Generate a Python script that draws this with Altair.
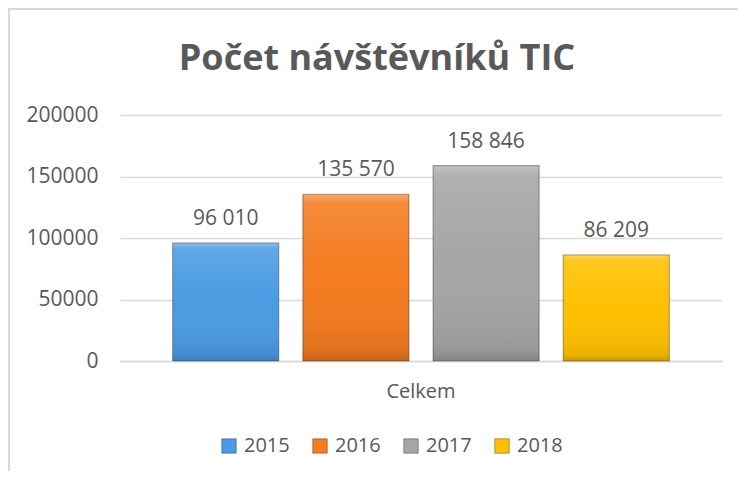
import altair as alt
import pandas as pd

years = ["2015", "2016", "2017", "2018"]
values = [96010, 135570, 158846, 86209]
category = "Celkem"
colors = ["#4A9BE2", "#F47B20", "#A5A5A5", "#FFC000"]
y_ticks = [0, 50000, 100000, 150000, 200000]
title_text = "Počet návštěvníků TIC"

labels = [f"{v:,}".replace(",", " ") for v in values]
df = pd.DataFrame({"cat": [category] * len(years), "year": years, "value": values, "label": labels})

FONT = "Open Sans"
TXT = "#595959"
GRID = "#D9D9D9"

x = alt.X(
    "cat:N", title=None,
    scale=alt.Scale(paddingInner=0, paddingOuter=0.106),
    axis=alt.Axis(labelAngle=0, labelFontSize=20, labelColor=TXT, labelFont=FONT,
                  ticks=False, domain=True, domainColor=GRID, domainWidth=1.5, labelPadding=20),
)
xo = alt.XOffset("year:N", scale=alt.Scale(paddingInner=0.185, paddingOuter=0))
y = alt.Y(
    "value:Q", title=None,
    scale=alt.Scale(domain=[0, 200000]),
    axis=alt.Axis(values=y_ticks, format="d", labelFontSize=21, labelColor=TXT, labelFont=FONT,
                  ticks=False, domain=False, gridColor=GRID, gridWidth=1.5, labelPadding=22),
)

base = alt.Chart(df)

bars = base.mark_bar().encode(
    x=x, xOffset=xo, y=y,
    color=alt.Color(
        "year:N", scale=alt.Scale(domain=years, range=colors),
        legend=alt.Legend(title=None, orient="none", direction="horizontal", legendX=99, legendY=321,
                          symbolType="square", symbolSize=210, symbolStrokeColor="#00000055",
                          symbolStrokeWidth=1, labelFontSize=20, labelFont=FONT, labelColor=TXT,
                          labelOffset=5, columnPadding=20),
    ),
)

shade = base.mark_bar(
    color=alt.Gradient(
        gradient="linear", x1=0, x2=0, y1=0, y2=1,
        stops=[
            alt.GradientStop(color="rgba(255,255,255,0.35)", offset=0),
            alt.GradientStop(color="rgba(255,255,255,0.12)", offset=0.05),
            alt.GradientStop(color="rgba(255,255,255,0.0)", offset=0.5),
            alt.GradientStop(color="rgba(0,0,0,0.08)", offset=0.94),
            alt.GradientStop(color="rgba(0,0,0,0.20)", offset=1),
        ],
    ),
    stroke="rgba(0,0,0,0.30)", strokeWidth=1.2,
).encode(x=x, xOffset=xo, y=y)

text = base.mark_text(baseline="bottom", dy=-14, fontSize=21, font=FONT, color=TXT).encode(
    x=x, xOffset=xo, y=y, text="label:N"
)

frame = alt.Chart(df).mark_rect(fill="transparent", stroke=GRID, strokeWidth=2).encode(
    x=alt.value(-111), x2=alt.value(700), y=alt.value(-106), y2=alt.value(420)
)

chart = alt.layer(frame, bars, shade, text).properties(
    width=602, height=246,
    padding={"left": 112, "top": 107, "right": 16, "bottom": 110},
    autosize=alt.AutoSizeParams(type="none"),
    background="white",
    title=alt.Title(title_text, fontSize=36, font=FONT, fontWeight="bold", color=TXT,
                    anchor="middle", dx=-44, offset=-70),
).configure_view(strokeWidth=0)

chart.save("out.html", embed_options={"renderer": "svg", "actions": False})
